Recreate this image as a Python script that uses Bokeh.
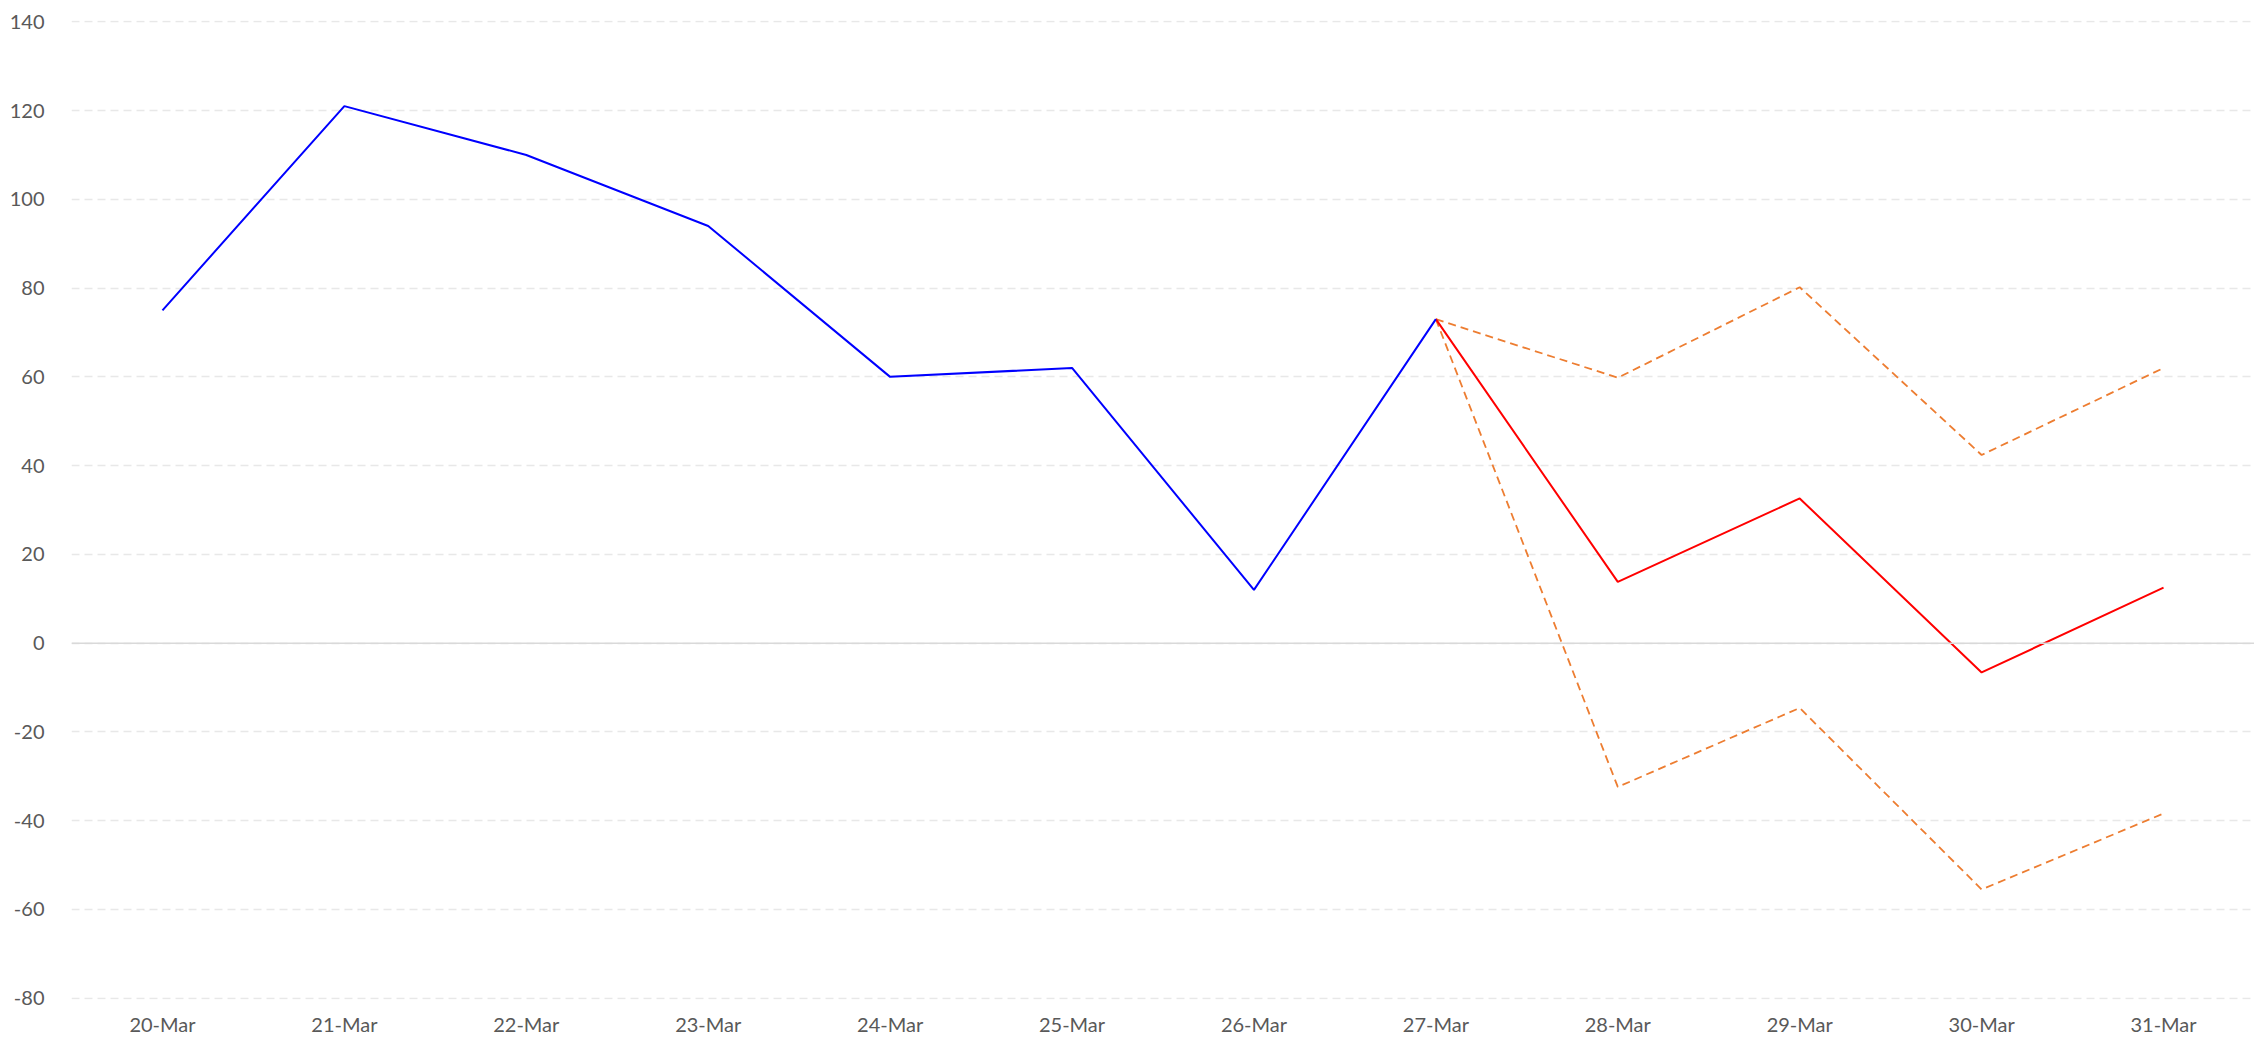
from bokeh.plotting import figure
from bokeh.models import FactorRange, Range1d, SingleIntervalTicker, Span, PrintfTickFormatter
from bokeh.embed import file_html
from bokeh.resources import INLINE

dates = ["20-Mar", "21-Mar", "22-Mar", "23-Mar", "24-Mar", "25-Mar",
         "26-Mar", "27-Mar", "28-Mar", "29-Mar", "30-Mar", "31-Mar"]

actual_dates = dates[:8]
actual = [75, 121, 110, 94, 60, 62, 12, 73]

fc_dates = dates[7:]
forecast = [73, 13.8, 32.6, -6.6, 12.5]
upper = [73, 59.8, 80.2, 42.4, 62]
lower = [73, -32.4, -14.6, -55.5, -38.4]

p = figure(x_range=FactorRange(*dates), y_range=Range1d(-80.3, 140.3),
           width=2254, height=1045, output_backend="svg", toolbar_location=None,
           min_border_left=71, min_border_right=0, min_border_top=20, min_border_bottom=46)
p.outline_line_color = None
p.background_fill_color = "white"

p.xgrid.grid_line_color = None
p.ygrid.grid_line_color = "#E8E8E8"
p.ygrid.grid_line_dash = "8 5"
p.ygrid.grid_line_width = 1.5
p.yaxis.ticker = SingleIntervalTicker(interval=20)
p.yaxis.formatter = PrintfTickFormatter(format="%d")

for ax in (p.xaxis[0], p.yaxis[0]):
    ax.axis_line_color = None
    ax.major_tick_line_color = None
    ax.minor_tick_line_color = None
    ax.major_tick_out = 0
    ax.major_tick_in = 0
    ax.major_label_text_font = "Lato"
    ax.major_label_text_font_size = "20px"
    ax.major_label_text_color = "#595959"
p.yaxis.major_label_standoff = 23
p.xaxis.major_label_standoff = 12

p.add_layout(Span(location=0, dimension="width", line_color="#D9D9D9", line_width=1.5))

p.line(fc_dates, upper, line_color="#ED7D31", line_width=1.8, line_dash="8 5")
p.line(fc_dates, lower, line_color="#ED7D31", line_width=1.8, line_dash="8 5")
p.line(fc_dates, forecast, line_color="#FF0000", line_width=2)
p.line(actual_dates, actual, line_color="#0000FF", line_width=2)

open("out.html", "w").write(file_html(p, INLINE))
